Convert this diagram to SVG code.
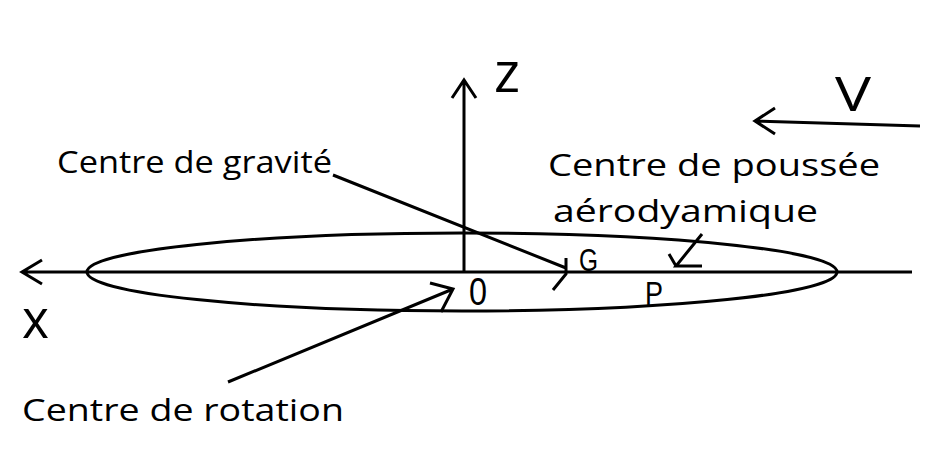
<svg xmlns="http://www.w3.org/2000/svg" width="946" height="466" viewBox="0 0 946 466">
<style>
.l{stroke:#000;stroke-width:3;fill:none}
.t{font-family:"Open Sans","Liberation Sans",sans-serif;fill:#000}
.n{font-family:"Liberation Sans",sans-serif;fill:#000}
</style>
<rect width="946" height="466" fill="#fff"/>
<g id="ellipse"><ellipse class="l" cx="462" cy="272" rx="375" ry="39"/></g>
<g id="connectors">
<path class="l" d="M912 272H22M42 260L22 272L42 284"/>
<path class="l" d="M464 272V80M452 98L464 80L476 98"/>
<path class="l" d="M920 126L755 121M775 108L755 121L775 134"/>
<path class="l" d="M333 175L566 268M566 258V274L553 290"/>
<path class="l" d="M228 382L453 289M430 283L453 289L441 312"/>
<path class="l" d="M702 234L676 266H702M676 266L669 254"/>
</g>
<g id="labels">
<text class="t" x="494" y="92" font-size="56" textLength="26" lengthAdjust="spacingAndGlyphs">z</text>
<text class="t" x="835" y="111" font-size="48" textLength="36" lengthAdjust="spacingAndGlyphs">V</text>
<text class="t" x="22" y="338" font-size="54" textLength="27" lengthAdjust="spacingAndGlyphs">x</text>
<text class="t" x="57" y="173" font-size="31" textLength="275" lengthAdjust="spacingAndGlyphs">Centre de gravité</text>
<text class="t" x="548" y="176" font-size="31" textLength="332" lengthAdjust="spacingAndGlyphs">Centre de poussée</text>
<text class="t" x="553" y="222" font-size="31" textLength="265" lengthAdjust="spacingAndGlyphs">aérodyamique</text>
<text class="t" x="22" y="421" font-size="31" textLength="322" lengthAdjust="spacingAndGlyphs">Centre de rotation</text>
<text class="n" x="579" y="271" font-size="32" textLength="19" lengthAdjust="spacingAndGlyphs">G</text>
<text class="n" x="469" y="305" font-size="38" textLength="18" lengthAdjust="spacingAndGlyphs">0</text>
<text class="n" x="645" y="305" font-size="33" textLength="18" lengthAdjust="spacingAndGlyphs">P</text>
</g>
</svg>
